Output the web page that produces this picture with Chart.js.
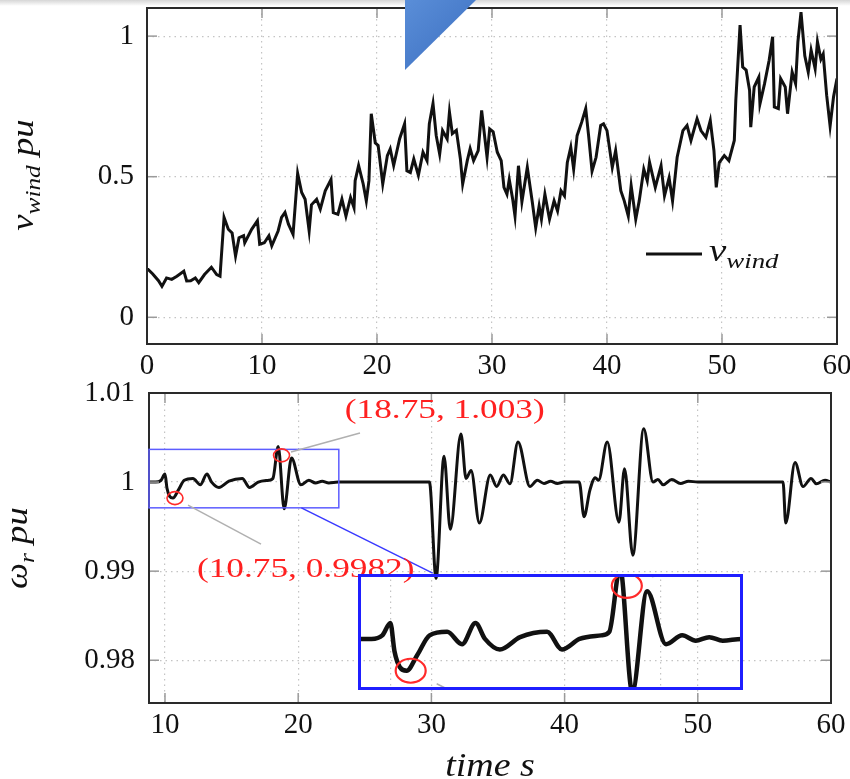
<!DOCTYPE html>
<html>
<head>
<meta charset="utf-8">
<script src="https://cdn.jsdelivr.net/npm/chart.js@4.4.1/dist/chart.umd.min.js"></script>
<style>
  html, body { margin: 0; padding: 0; background: #fff; }
  #page { position: relative; width: 850px; height: 779px; overflow: hidden; }
  canvas { position: absolute; left: 0; }
  #windChart { top: 0; }
  #rotorChart { top: 380px; }
  #zoomChart { left: 358px; top: 574px; }
  #shade { position: absolute; left: 0; top: 0; width: 850px; height: 6px; background: linear-gradient(#d6d6d6, rgba(255,255,255,0)); }
  #arrow { position: absolute; left: 405px; top: 0; width: 71px; height: 70px; background: linear-gradient(135deg, #5a8ed8, #3a6dbf); clip-path: polygon(0 0, 100% 0, 0 100%); }
</style>
</head>
<body>
<div id="page">
  <canvas id="windChart" width="850" height="380"></canvas>
  <canvas id="rotorChart" width="850" height="399"></canvas>
  <canvas id="zoomChart" width="385" height="116"></canvas>
  <div id="shade"></div>
  <div id="arrow"></div>
</div>
<script>
// wind speed v_wind (pu) against time (s)
var windTime = [0, 0.1, 0.5, 1.0, 1.3, 1.7, 2.15, 2.6, 3.2, 3.45, 3.8, 4.2, 4.5, 5.0, 5.6, 6.06, 6.35, 6.7, 7.07, 7.4,
  7.7, 8.0, 8.4, 8.5, 9.1, 9.6, 9.8, 10.2, 10.6, 10.85, 11.4, 11.7, 12.0, 12.3, 12.7, 13.1, 13.45, 13.75, 14.1, 14.3,
  14.75, 15.07, 15.5, 16.0, 16.2, 16.6, 16.95, 17.3, 17.7, 18.0, 18.1, 18.4, 18.8, 19.07, 19.3, 19.5, 19.85, 20.1, 20.5, 20.9,
  21.15, 21.45, 21.97, 22.4, 22.6, 22.9, 23.2, 23.6, 24.0, 24.35, 24.55, 24.87, 25.15, 25.45, 25.7, 26.1, 26.3, 26.55, 26.9, 27.25,
  27.45, 27.85, 28.1, 28.4, 28.8, 29.1, 29.57, 29.8, 30.1, 30.46, 30.8, 31.04, 31.3, 31.5, 31.8, 32.0, 32.3, 32.6, 33.07, 33.5,
  33.8, 34.1, 34.3, 34.6, 35.0, 35.4, 35.7, 36.0, 36.3, 36.55, 36.85, 37.1, 37.4, 37.8, 38.15, 38.4, 38.7, 39.05, 39.45, 39.7,
  40.0, 40.46, 40.75, 41.2, 41.5, 41.85, 42.1, 42.5, 42.8, 43.2, 43.5, 43.7, 44.2, 44.7, 45.0, 45.4, 45.7, 46.1, 46.6, 46.96,
  47.3, 47.83, 48.17, 48.6, 48.98, 49.3, 49.5, 49.76, 50.2, 50.6, 51.07, 51.2, 51.57, 51.8, 52.1, 52.4, 52.5, 52.8, 53.2, 53.3,
  53.7, 54.1, 54.4, 54.55, 54.9, 55.1, 55.5, 55.7, 56.1, 56.4, 56.6, 56.87, 57.2, 57.5, 57.75, 58.1, 58.3, 58.6, 58.8, 59.1,
  59.4, 59.7, 60.0];
var windSpeed = [0.17, 0.17, 0.154, 0.13, 0.11, 0.14, 0.135, 0.146, 0.164, 0.129, 0.13, 0.14, 0.123, 0.152, 0.178, 0.152, 0.146, 0.355, 0.313, 0.30,
  0.218, 0.283, 0.29, 0.265, 0.313, 0.343, 0.26, 0.265, 0.29, 0.254, 0.307, 0.355, 0.373, 0.331, 0.295, 0.512, 0.444, 0.42, 0.307, 0.40,
  0.42, 0.385, 0.45, 0.49, 0.372, 0.366, 0.42, 0.36, 0.426, 0.39, 0.486, 0.54, 0.474, 0.414, 0.486, 0.724, 0.62, 0.611, 0.474, 0.575,
  0.599, 0.54, 0.635, 0.688, 0.521, 0.515, 0.563, 0.505, 0.587, 0.557, 0.688, 0.76, 0.646, 0.58, 0.664, 0.634, 0.73, 0.653, 0.665, 0.564,
  0.474, 0.557, 0.60, 0.557, 0.593, 0.736, 0.569, 0.67, 0.66, 0.587, 0.557, 0.462, 0.438, 0.49, 0.42, 0.36, 0.539, 0.411, 0.533, 0.411,
  0.319, 0.396, 0.349, 0.438, 0.349, 0.414, 0.378, 0.45, 0.432, 0.551, 0.605, 0.527, 0.646, 0.694, 0.742, 0.646, 0.52, 0.569, 0.682, 0.688,
  0.664, 0.533, 0.593, 0.45, 0.414, 0.36, 0.468, 0.349, 0.414, 0.527, 0.486, 0.551, 0.462, 0.539, 0.432, 0.496, 0.414, 0.569, 0.664, 0.682,
  0.629, 0.706, 0.664, 0.64, 0.70, 0.593, 0.462, 0.55, 0.575, 0.557, 0.629, 0.771, 1.039, 0.89, 0.879, 0.807, 0.676, 0.819, 0.854, 0.759,
  0.831, 0.914, 0.998, 0.748, 0.742, 0.849, 0.819, 0.724, 0.872, 0.831, 0.98, 1.085, 0.93, 0.872, 0.95, 0.884, 0.98, 0.918, 0.936, 0.79,
  0.68, 0.784, 0.849];

// rotor speed omega_r (pu) against time (s)
var rotorTime = [8.8, 9.3, 9.7, 10.0, 10.15, 10.35, 10.6, 11.0, 11.45, 12.1, 12.65, 13.15, 13.5, 14.05, 14.8, 15.8, 16.35, 17.0, 17.8, 18.1,
  18.5, 18.95, 19.5, 20.2, 20.8, 21.3, 21.8, 22.3, 23.0, 29.85, 30.35, 30.95, 31.42, 32.22, 32.6, 32.98, 33.6, 34.42, 34.9, 35.4,
  35.9, 36.5, 37.4, 37.95, 38.45, 38.95, 39.45, 39.95, 41.1, 41.46, 41.9, 42.3, 42.55, 43.2, 44.08, 44.5, 45.12, 45.94, 46.64, 47.0,
  47.4, 48.05, 48.7, 49.3, 50.0, 56.4, 56.6, 57.3, 57.9, 58.5, 58.9, 59.55, 60.0];
var rotorSpeed = [1.0, 1.0, 1.0002, 1.0009, 0.9993, 0.9984, 0.9982, 0.9991, 1.0002, 1.0004, 0.9997, 1.0009, 1.0, 0.9994, 1.0001, 1.0004, 0.9994, 1.0, 1.0002, 1.0004,
  1.0040, 0.9970, 1.0027, 0.9997, 1.0002, 0.9999, 1.0001, 0.9999, 1.0, 1.0, 0.9892, 1.0029, 0.9947, 1.0054, 1.0004, 1.0013, 0.9954, 1.0008, 0.9995, 1.0008,
  0.9998, 1.0045, 0.9995, 1.0002, 0.99985, 1.0001, 0.99985, 1.0, 1.0, 0.9961, 0.9991, 1.0005, 1.0002, 1.0045, 0.9955, 1.0015, 0.9918, 1.0060, 1.0, 1.0003,
  0.9997, 1.0003, 0.99985, 1.0001, 1.0, 1.0, 0.9954, 1.0022, 0.9995, 1.0004, 0.9998, 1.0002, 1.0];

// tick labels
var windXTicks = [0, 10, 20, 30, 40, 50, 60];
var windYTicks = [0, 0.5, 1];
var rotorXTicks = [10, 20, 30, 40, 50, 60];
var rotorYTicks = [0.98, 0.99, 1, 1.01];
var zoomXTicks = [10, 20];

// marked points
var markTime = [10.75, 18.75];
var markValue = [0.9982, 1.003];
var markLabel = ["(10.75, 0.9982)", "(18.75, 1.003)"];

// zoomed window (time range, value range)
var zoomTime = [8.8, 23.05];
var zoomValue = [0.99711, 1.00367];

var serif = "'Liberation Serif', 'DejaVu Serif', serif";
Chart.defaults.font.family = serif;
Chart.defaults.color = "#111";

function points(xs, ys) {
  return xs.map(function (x, i) { return { x: x, y: ys[i] }; });
}
function setTicks(values) {
  return function (scale) {
    scale.ticks = values.map(function (v) { return { value: v }; });
  };
}
// fixed axis size, no extra room for the end labels
function fixHeight(px) {
  return function (s) { s.height = px; s.paddingLeft = 0; s.paddingRight = 0; };
}
function fixWidth(px) {
  return function (s) { s.width = px; s.paddingTop = 0; s.paddingBottom = 0; };
}
function tickText(v) {
  return String(Math.round(v * 1000) / 1000);
}
function line(ctx, x1, y1, x2, y2) {
  ctx.beginPath();
  ctx.moveTo(x1, y1);
  ctx.lineTo(x2, y2);
  ctx.stroke();
}

// text with sub-scripts, stretched a bit like the original figure
function drawMath(ctx, parts, x, y, align, angle, color, stretch) {
  ctx.save();
  ctx.translate(x, y);
  if (angle) ctx.rotate(angle);
  ctx.scale(stretch || 1.15, 1);
  ctx.fillStyle = color || "#111";
  ctx.textBaseline = "alphabetic";
  var widths = parts.map(function (p) {
    ctx.font = (p[3] ? "italic " : "") + p[1] + "px " + serif;
    return ctx.measureText(p[0]).width;
  });
  var total = widths.reduce(function (a, b) { return a + b; }, 0);
  var cx = align === "center" ? -total / 2 : (align === "right" ? -total : 0);
  parts.forEach(function (p, i) {
    ctx.font = (p[3] ? "italic " : "") + p[1] + "px " + serif;
    ctx.fillText(p[0], cx, p[2]);
    cx += widths[i];
  });
  ctx.restore();
}

function drawFrame(chart) {
  var ctx = chart.ctx, a = chart.chartArea;
  var x = chart.scales.x, y = chart.scales.y;
  ctx.save();
  ctx.strokeStyle = "#9a9a9a";
  ctx.lineWidth = 1.5;
  x.ticks.forEach(function (t) {
    var px = x.getPixelForValue(t.value);
    line(ctx, px, a.bottom, px, a.bottom - 10);
    line(ctx, px, a.top, px, a.top + 10);
  });
  y.ticks.forEach(function (t) {
    var py = y.getPixelForValue(t.value);
    line(ctx, a.left, py, a.left + 10, py);
    line(ctx, a.right, py, a.right - 10, py);
  });
  ctx.strokeStyle = "#2a2a2a";
  ctx.lineWidth = 2;
  ctx.strokeRect(a.left, a.top, a.right - a.left, a.bottom - a.top);
  ctx.restore();
}

var gridStyle = { color: "#c4c4c4", lineWidth: 1.2, drawTicks: false };
var dotted = { display: false, dash: [1.5, 4] };

// Wind chart
var windDecor = {
  id: "windDecor",
  afterDraw: function (chart) {
    var ctx = chart.ctx;
    drawFrame(chart);
    drawMath(ctx, [["v", 32, 0, 1], ["wind", 22, 7, 1], [" pu", 32, 0, 1]], 33, 175, "center", -Math.PI / 2);
    // legend
    ctx.save();
    ctx.strokeStyle = "#111";
    ctx.lineWidth = 2.8;
    line(ctx, 646, 254, 702, 254);
    ctx.restore();
    drawMath(ctx, [["v", 32, 0, 1], ["wind", 22, 7, 1]], 709, 261, "left", 0, "#111", 1.22);
  }
};

var windCtx = document.getElementById("windChart").getContext("2d");
var windChart = new Chart(windCtx, {
  type: "line",
  data: {
    datasets: [
      {
        label: "v_wind",
        data: points(windTime, windSpeed),
        borderColor: "#111",
        borderWidth: 3,
        pointRadius: 0,
        tension: 0,
      },
    ],
  },
  options: {
    responsive: false,
    animation: false,
    layout: { padding: { top: 8, right: 13, left: 0, bottom: 0 } },
    plugins: { legend: { display: false }, tooltip: { enabled: false } },
    scales: {
      x: {
        type: "linear", min: 0, max: 60,
        afterBuildTicks: setTicks(windXTicks),
        afterFit: fixHeight(36),
        ticks: { callback: tickText, font: { size: 29 }, padding: 5, maxRotation: 0 },
        grid: gridStyle, border: dotted,
      },
      y: {
        type: "linear", min: -0.095, max: 1.1,
        afterBuildTicks: setTicks(windYTicks),
        afterFit: fixWidth(147),
        ticks: { callback: tickText, font: { size: 29 }, padding: 13 },
        grid: gridStyle, border: dotted,
      },
    },
  },
  plugins: [windDecor],
});

// Rotor speed chart
var rotorDecor = {
  id: "rotorDecor",
  afterDraw: function (chart) {
    var ctx = chart.ctx;
    var x = chart.scales.x, y = chart.scales.y;
    drawFrame(chart);
    drawMath(ctx, [["\u03c9", 32, 0, 1], ["r", 22, 7, 1], [" pu", 32, 0, 1]], 27, 168, "center", -Math.PI / 2);
    drawMath(ctx, [["time s", 33, 0, 1]], 490, 396, "center");

    ctx.save();
    // zoom window and connector
    ctx.strokeStyle = "#5d5dff";
    ctx.lineWidth = 1.5;
    var l = x.getPixelForValue(zoomTime[0]), r = x.getPixelForValue(zoomTime[1]);
    var t = y.getPixelForValue(zoomValue[1]), b = y.getPixelForValue(zoomValue[0]);
    ctx.strokeRect(l, t, r - l, b - t);
    ctx.strokeStyle = "#3a3aff";
    line(ctx, x.getPixelForValue(20.24), b, x.getPixelForValue(30.1), y.getPixelForValue(0.98978));

    // leader lines
    ctx.strokeStyle = "#b0b0b0";
    line(ctx, x.getPixelForValue(19.46), y.getPixelForValue(1.00337), x.getPixelForValue(24.64), y.getPixelForValue(1.00551));
    line(ctx, x.getPixelForValue(11.73), y.getPixelForValue(0.99742), x.getPixelForValue(17.21), y.getPixelForValue(0.99303));

    // circles
    ctx.strokeStyle = "#ff2a2a";
    ctx.lineWidth = 1.6;
    markTime.forEach(function (mt, i) {
      ctx.beginPath();
      ctx.ellipse(x.getPixelForValue(mt), y.getPixelForValue(markValue[i]), 8, 6.5, 0, 0, Math.PI * 2);
      ctx.stroke();
    });
    ctx.restore();

    drawMath(ctx, [[markLabel[1], 28, 0, 0]], x.getPixelForValue(23.5), y.getPixelForValue(1.0072), "left", 0, "#ff2020", 1.26);
    drawMath(ctx, [[markLabel[0], 28, 0, 0]], x.getPixelForValue(12.4), y.getPixelForValue(0.98933), "left", 0, "#ff2020", 1.26);
  }
};

var rotorCtx = document.getElementById("rotorChart").getContext("2d");
var rotorChart = new Chart(rotorCtx, {
  type: "line",
  data: {
    datasets: [
      {
        label: "omega_r",
        data: points(rotorTime, rotorSpeed),
        borderColor: "#111",
        borderWidth: 3,
        pointRadius: 0,
        cubicInterpolationMode: "monotone",
      },
    ],
  },
  options: {
    responsive: false,
    animation: false,
    layout: { padding: { top: 13, right: 19, left: 0, bottom: 0 } },
    plugins: { legend: { display: false }, tooltip: { enabled: false } },
    scales: {
      x: {
        type: "linear", min: 8.8, max: 60,
        afterBuildTicks: setTicks(rotorXTicks),
        afterFit: fixHeight(76),
        ticks: { callback: tickText, font: { size: 29 }, padding: 5, maxRotation: 0 },
        grid: gridStyle, border: dotted,
      },
      y: {
        type: "linear", min: 0.9752, max: 1.01,
        afterBuildTicks: setTicks(rotorYTicks),
        afterFit: fixWidth(149),
        ticks: { callback: tickText, font: { size: 29 }, padding: 14 },
        grid: gridStyle, border: dotted,
      },
    },
  },
  plugins: [rotorDecor],
});

// Zoomed inset
var zoomDecor = {
  id: "zoomDecor",
  afterDraw: function (chart) {
    var ctx = chart.ctx;
    var x = chart.scales.x, y = chart.scales.y;
    ctx.save();
    ctx.strokeStyle = "#ff2a2a";
    ctx.lineWidth = 2.2;
    var centers = markTime.map(function (mt, i) {
      return [x.getPixelForValue(mt), y.getPixelForValue(markValue[i])];
    });
    centers.forEach(function (c) {
      ctx.beginPath();
      ctx.ellipse(c[0], c[1], 15, 12, 0, 0, Math.PI * 2);
      ctx.stroke();
    });
    ctx.strokeStyle = "#b0b0b0";
    ctx.lineWidth = 1.5;
    line(ctx, centers[0][0] + 26, centers[0][1] + 13, centers[0][0] + 36, centers[0][1] + 18);
    line(ctx, centers[1][0] + 25, centers[1][1] - 9, centers[1][0] + 42, centers[1][1] - 12);
    ctx.strokeStyle = "#1f1fff";
    ctx.lineWidth = 3;
    ctx.strokeRect(1.5, 1.5, chart.width - 3, chart.height - 3);
    ctx.restore();
  }
};

var zoomCtx = document.getElementById("zoomChart").getContext("2d");
var zoomChart = new Chart(zoomCtx, {
  type: "line",
  data: {
    datasets: [
      {
        label: "omega_r zoom",
        data: points(rotorTime, rotorSpeed),
        borderColor: "#111",
        borderWidth: 4.5,
        pointRadius: 0,
        cubicInterpolationMode: "monotone",
      },
    ],
  },
  options: {
    responsive: false,
    animation: false,
    layout: { padding: 0 },
    plugins: { legend: { display: false }, tooltip: { enabled: false } },
    scales: {
      x: {
        type: "linear", min: zoomTime[0], max: zoomTime[1],
        afterBuildTicks: setTicks(zoomXTicks),
        afterFit: fixHeight(0),
        ticks: { display: false },
        grid: gridStyle, border: dotted,
      },
      y: { type: "linear", min: zoomValue[0], max: zoomValue[1], display: false },
    },
  },
  plugins: [zoomDecor],
});
</script>
</body>
</html>
